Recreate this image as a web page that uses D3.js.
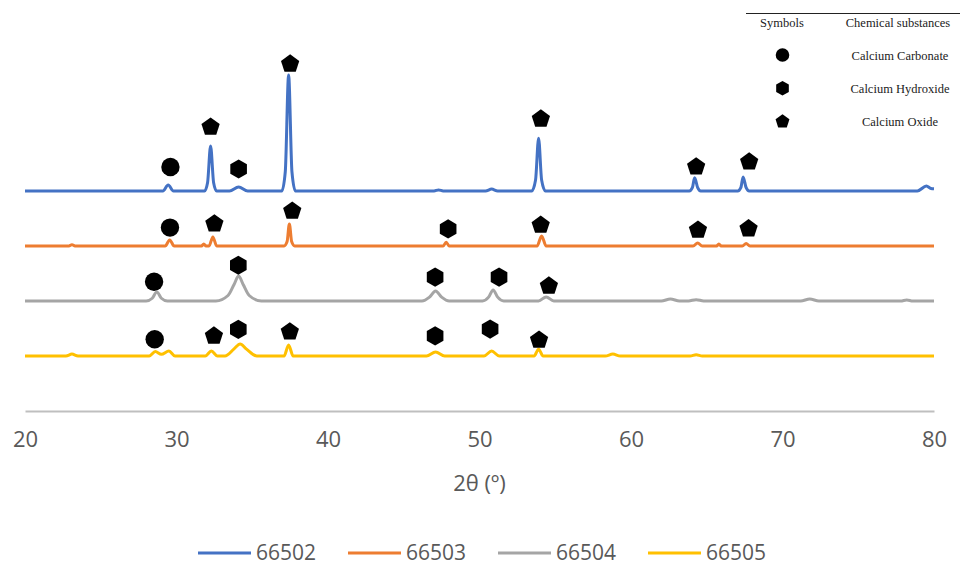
<!DOCTYPE html>
<html>
<head>
<meta charset="utf-8">
<script src="https://cdn.jsdelivr.net/npm/d3@7"></script>
<style>
  html, body { margin: 0; padding: 0; background: #fff; }
  svg { display: block; }
</style>
</head>
<body>
<svg id="chart" width="960" height="566"></svg>
<script>
// ---------- DATA ----------
const seriesNames = ["66502", "66503", "66504", "66505"];
const seriesColors = ["#4472C4", "#ED7D31", "#A5A5A5", "#FFC000"];
const seriesOffsets = [4000, 3000, 2000, 1000];   // vertical stacking offsets (intensity units)

const xTicks = [20, 30, 40, 50, 60, 70, 80];

// [2θ, relative intensity] points
const xrd66502 = [[20,0],[29.1,0],[29.45,110],[29.8,0],[31.85,0],[32.05,150],[32.25,820],[32.45,150],[32.65,0],
  [33.5,0],[34.1,75],[34.7,0],[36.95,0],[37.18,350],[37.4,2110],[37.62,350],[37.85,0],[47.0,0],[47.3,20],[47.6,0],
  [50.4,0],[50.8,35],[51.2,0],[53.45,0],[53.7,200],[53.9,960],[54.1,200],[54.35,0],[63.85,0],[64.05,60],[64.2,240],
  [64.4,60],[64.6,0],[67.05,0],[67.25,60],[67.4,255],[67.6,60],[67.8,0],[78.9,0],[79.5,90],[79.8,45],[80,40]];
const xrd66503 = [[20,0],[22.9,0],[23.1,25],[23.3,0],[29.25,0],[29.55,110],[29.85,0],[31.65,0],[31.8,35],[31.95,0],
  [32.15,0],[32.4,165],[32.65,0],[37.1,0],[37.3,80],[37.45,400],[37.6,80],[37.8,0],[47.6,0],[47.8,70],[48.0,0],
  [53.8,0],[54.1,180],[54.4,0],[64.1,0],[64.4,55],[64.7,0],[65.65,0],[65.8,35],[65.95,0],[67.35,0],[67.6,45],[67.85,0],[80,0]];
const xrd66504 = [[20,0],[28.0,0],[28.4,50],[28.7,165],[29.0,50],[29.4,0],[32.6,0],[33.4,100],[33.8,300],[34.1,455],
  [34.4,300],[34.8,100],[35.6,0],[46.2,0],[46.7,70],[47.1,180],[47.5,70],[48.0,0],[50.2,0],[50.6,70],[50.9,200],
  [51.2,70],[51.6,0],[53.9,0],[54.4,75],[54.9,0],[62.0,0],[62.6,35],[63.2,0],[63.8,0],[64.3,25],[64.8,0],
  [71.2,0],[71.8,35],[72.4,0],[77.8,0],[78.2,20],[78.6,0],[80,0]];
const xrd66505 = [[20,0],[22.7,0],[23.1,35],[23.5,0],[28.2,0],[28.6,80],[29.0,30],[29.5,90],[29.9,0],[31.9,0],
  [32.3,90],[32.7,0],[33.2,0],[33.8,130],[34.2,220],[34.6,130],[35.3,0],[37.1,0],[37.4,200],[37.7,0],[46.5,0],
  [47.1,75],[47.7,0],[50.3,0],[50.8,90],[51.3,0],[53.6,0],[53.9,125],[54.2,0],[58.3,0],[58.8,35],[59.3,0],
  [63.9,0],[64.3,25],[64.7,0],[80,0]];
const seriesData = [xrd66502, xrd66503, xrd66504, xrd66505];

// phase markers: [2θ, height above own baseline, kind]  kind: C = carbonate, H = hydroxide, O = oxide
const markers66502 = [[29.6,436,"C"],[32.25,1164,"O"],[34.1,400,"H"],[37.5,2310,"O"],[54.05,1310,"O"],[64.3,440,"O"],[67.8,530,"O"]];
const markers66503 = [[29.57,335,"C"],[32.5,405,"O"],[37.64,635,"O"],[47.93,310,"H"],[54.04,380,"O"],[64.42,290,"O"],[67.76,315,"O"]];
const markers66504 = [[28.52,350,"C"],[34.08,650,"H"],[47.07,435,"H"],[51.29,435,"H"],[54.58,275,"O"]];
const markers66505 = [[28.56,305,"C"],[32.47,365,"O"],[34.08,485,"H"],[37.48,440,"O"],[47.07,365,"H"],[50.7,490,"H"],[53.93,290,"O"]];
const seriesMarkers = [markers66502, markers66503, markers66504, markers66505];

const phaseKinds = ["C", "H", "O"];
const phaseNames = ["Calcium Carbonate", "Calcium Hydroxide", "Calcium Oxide"];

// ---------- CHART ----------
const svg = d3.select("#chart");
const x = d3.scaleLinear().domain([20, 80]).range([25, 934]);
const y = d3.scaleLinear().domain([0, 7000]).range([411, 26]);

// custom polygon symbols
function polygonSymbol(n, rotation) {
  return {
    draw(context, size) {
      const r = Math.sqrt(size);
      for (let i = 0; i < n; i++) {
        const a = rotation + i * 2 * Math.PI / n;
        const px = r * Math.sin(a), py = -r * Math.cos(a);
        if (i === 0) context.moveTo(px, py); else context.lineTo(px, py);
      }
      context.closePath();
    }
  };
}
const pentagon = polygonSymbol(5, 0);
const hexagon = polygonSymbol(6, 0);
function symbolPath(kind, r) {
  if (kind === "C") return d3.symbol().type(d3.symbolCircle).size(Math.PI * r * r)();
  if (kind === "H") return d3.symbol().type(hexagon).size(r * r)();
  return d3.symbol().type(pentagon).size(r * r)();
}

// axis baseline
const xAxis = d3.axisBottom(x).tickValues(xTicks).tickSize(0).tickPadding(20);
const axisG = svg.append("g").attr("transform", `translate(0,${y(0)})`).call(xAxis);
axisG.select(".domain").attr("stroke", "#BFBFBF").attr("stroke-width", 2);
axisG.selectAll(".tick text")
  .attr("font-family", "'Open Sans', sans-serif")
  .attr("font-size", 22)
  .attr("fill", "#595959");

svg.append("text")
  .attr("x", x(50)).attr("y", 491)
  .attr("text-anchor", "middle")
  .attr("font-family", "'Open Sans', sans-serif")
  .attr("font-size", 22)
  .attr("fill", "#595959")
  .text("2θ (º)");

// lines
const line = d3.line().curve(d3.curveMonotoneX);
seriesData.forEach((pts, i) => {
  line.x(d => x(d[0])).y(d => y(d[1] + seriesOffsets[i]));
  svg.append("path")
    .datum(pts)
    .attr("fill", "none")
    .attr("stroke", seriesColors[i])
    .attr("stroke-width", 3)
    .attr("stroke-linejoin", "round")
    .attr("d", line);
});

// markers
seriesMarkers.forEach((ms, i) => {
  svg.append("g").selectAll("path")
    .data(ms).join("path")
    .attr("transform", d => `translate(${x(d[0])},${y(d[1] + seriesOffsets[i])})`)
    .attr("d", d => symbolPath(d[2], d[2] === "C" ? 9.2 : 9.6))
    .attr("fill", "#000");
});

// symbols legend (top right)
const lg = svg.append("g");
lg.append("line").attr("x1", 746).attr("x2", 960).attr("y1", 13.5).attr("y2", 13.5)
  .attr("stroke", "#222").attr("stroke-width", 1);
const serif = "'Liberation Serif', 'Times New Roman', serif";
lg.append("text").attr("x", 782).attr("y", 27).attr("text-anchor", "middle")
  .attr("font-family", serif).attr("font-size", 12.5).attr("fill", "#222").text("Symbols");
lg.append("text").attr("x", 898).attr("y", 27).attr("text-anchor", "middle")
  .attr("font-family", serif).attr("font-size", 12.5).attr("fill", "#222").text("Chemical substances");
const rowY = d3.scalePoint().domain(phaseKinds).range([55, 121.5]);
phaseKinds.forEach((k, i) => {
  lg.append("path")
    .attr("transform", `translate(782.5,${rowY(k)})`)
    .attr("d", symbolPath(k, k === "C" ? 6.8 : 7.3))
    .attr("fill", "#000");
  lg.append("text").attr("x", 900).attr("y", rowY(k) + 4.5).attr("text-anchor", "middle")
    .attr("font-family", serif).attr("font-size", 12.5).attr("fill", "#222")
    .text(phaseNames[i]);
});

// series legend (bottom)
const legX = d3.scalePoint().domain(seriesNames).range([198, 648]);
seriesNames.forEach((n, i) => {
  const g = svg.append("g").attr("transform", `translate(${legX(n)},553)`);
  g.append("line").attr("x1", 0).attr("x2", 53).attr("y1", 0).attr("y2", 0)
    .attr("stroke", seriesColors[i]).attr("stroke-width", 3);
  g.append("text").attr("x", 58).attr("y", 6.5)
    .attr("font-family", "'Open Sans', sans-serif").attr("font-size", 21)
    .attr("fill", "#595959").text(n);
});
</script>
</body>
</html>
